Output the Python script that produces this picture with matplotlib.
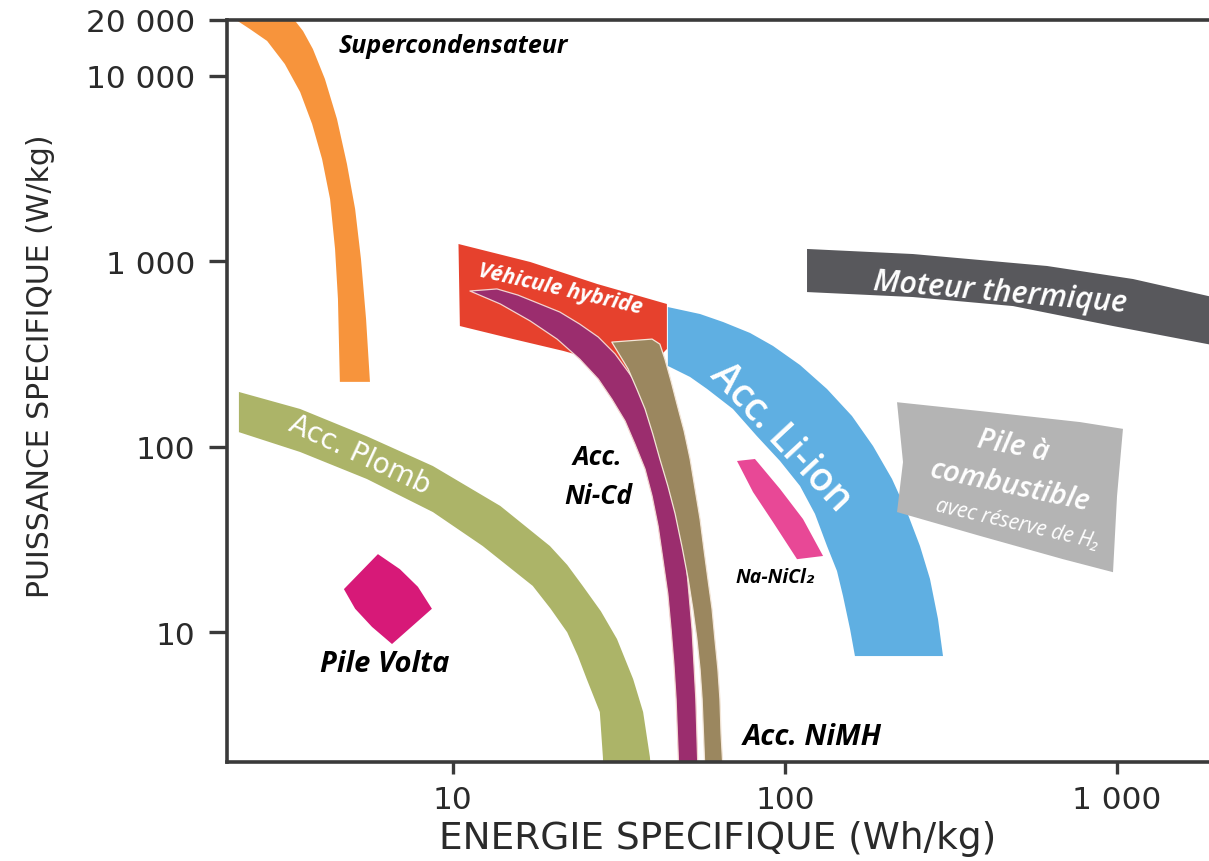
import matplotlib
matplotlib.use("Agg")
import matplotlib.pyplot as plt
from matplotlib.patches import Polygon
import numpy as np

# ---------------- data (energy Wh/kg, power W/kg outlines) ----------------
super_E = [2.18, 2.45, 2.76, 3.12, 3.47, 3.77, 4.04, 4.27, 4.42, 4.51, 4.57,
           5.63, 5.48, 5.29, 5.08, 4.80, 4.48, 4.12, 3.79, 3.54, 3.30]
super_P = [20500, 17870, 15420, 11580, 8180, 5500, 3560, 2168, 1166, 627, 224,
           224, 489, 1030, 1915, 3350, 5850, 9620, 13960, 17450, 20500]

plomb_E = [2.27, 3.47, 5.51, 8.71, 13.9, 19.6, 22.1, 24.6, 27.9, 31.2, 34.9, 37.4, 39.2, 39.5,
           28.4, 28.3, 27.7, 25.3, 23.8, 22.1, 19.7, 17.4, 12.3, 8.71, 5.51, 3.47, 2.27]
plomb_P = [197.6, 160, 114, 78.8, 48.0, 29.2, 23.1, 17.8, 13.0, 9.21, 5.60, 3.72, 2.13, 1.8,
           1.8, 2.13, 3.72, 5.60, 7.45, 10.0, 13.4, 17.8, 29.2, 44.5, 67.1, 93.8, 120]

volta_E = [4.70, 5.95, 6.93, 7.85, 8.65, 6.56, 5.71, 5.08]
volta_P = [17.1, 26.4, 21.9, 17.6, 13.4, 8.65, 10.7, 13.4]

hybride_E = [10.4, 17.1, 27.2, 44.1, 44.1, 36.6, 27.7, 21.5, 15.2, 10.5]
hybride_P = [1240, 992, 755, 589, 337, 238, 290, 329, 381, 448]

nicd_E = [11.26, 13.9, 17.1, 20.6, 24.1, 27.4, 30.1, 33.0, 35.3, 37.9, 39.8, 41.5,
          42.9, 44.4, 45.4, 46.3, 47.0, 47.9,
          54.7, 53.9, 53.2, 52.5, 51.4, 50.3, 49.3, 48.3, 46.3, 43.5, 40.6, 37.4,
          34.1, 30.8, 27.4, 24.1, 21.0, 18.3, 15.7, 13.58]
nicd_P = [692, 589, 477, 381, 297, 232, 181, 137.8, 104, 75.9, 54.3, 37.4,
          24.8, 16.1, 10.4, 6.75, 4.37, 1.8,
          1.8, 4.37, 6.75, 10.4, 16.1, 24.8, 37.0, 54.3, 77.9, 110, 150.3, 193,
          247, 317, 391, 459, 533, 589, 658, 710]

nimh_E = [30.1, 33.7, 35.8, 37.9, 40.0, 42.0, 44.4, 46.7, 49.0, 51.1, 52.8, 54.3,
          55.5, 56.3, 57.4,
          65.1, 64.2, 63.7, 62.8, 61.5, 60.3, 58.6, 57.0, 55.5, 53.6, 51.8, 49.7,
          47.3, 45.4, 43.5, 42.0, 39.8]
nimh_P = [367, 263, 205, 160, 117.3, 86.0, 61.5, 43.5, 28.8, 19.4, 13.4, 9.21,
          6.34, 4.37, 1.8,
          1.8, 2.83, 4.37, 6.34, 9.21, 13.4, 19.4, 28.1, 40.8, 59.3, 86.0, 121.7,
          170, 226, 297, 358, 381]

liion_E = [44.4, 55.5, 65.1, 78.5, 92.0, 111, 133.8, 159.1, 184.1, 210.0, 233.0,
           254.9, 273.2, 288.8, 299.0,
           162.4, 157.0, 149.5, 143.4, 133.8, 123.1, 111, 96.6, 82.4, 69.7, 58.3,
           51.8, 44.4]
liion_P = [567, 520, 471, 411, 350, 276, 205, 146.6, 101, 67.1, 44.5,
           29.2, 19.4, 11.8, 7.45,
           7.45, 10.4, 15.7, 21.4, 29.2, 43.5, 61.5, 83.9, 114, 160, 205,
           238, 273]

nanicl_E = [71.7, 81.2, 96.6, 113.3, 130.2, 108.7, 92.0, 80.1]
nanicl_P = [83.9, 86.0, 59.3, 40.8, 25.8, 24.8, 39.3, 57.1]

moteur_E = [116.5, 242.9, 614.9, 1116, 2000, 2000, 971.6, 485.9, 242.9, 116.5]
moteur_P = [1166, 1095, 944, 803, 634, 350, 448, 574, 642, 683]

pac_E = [217.4, 386.5, 773, 1041, 999, 971.6, 687.1, 386.5, 217.4, 226.6]
pac_P = [174, 156, 136, 125, 54.3, 21.1, 24.8, 33.1, 44.5, 82.8]

x_ticks = [10, 100, 1000]
x_ticklabels = ["10", "100", "1 000"]
y_ticks = [10, 100, 1000, 10000, 20000]
y_ticklabels = ["10", "100", "1 000", "10 000", "20 000"]

# ---------------- figure ----------------
W, H = 1209, 862
fig = plt.figure(figsize=(W / 100, H / 100), dpi=100)
ax = fig.add_axes([227 / W, 99 / H, (W - 227) / W, (763 - 21) / H])
ax.set_xscale("log")
ax.set_yscale("log")
ax.set_xlim(2.09, 1890)
ax.set_ylim(2, 20000)

shapes = [
    (plomb_E, plomb_P, "#ACB468", "none"),
    (volta_E, volta_P, "#D71978", "none"),
    (super_E, super_P, "#F7943C", "none"),
    (hybride_E, hybride_P, "#E6412D", "none"),
    (nicd_E, nicd_P, "#9B2D6E", "#f3d4d0"),
    (nimh_E, nimh_P, "#9B875F", "#f3e6d8"),
    (liion_E, liion_P, "#5FAFE2", "none"),
    (nanicl_E, nanicl_P, "#E84896", "none"),
    (moteur_E, moteur_P, "#58585C", "none"),
    (pac_E, pac_P, "#B4B4B4", "none"),
]
for E, P, col, ec in shapes:
    poly = Polygon(np.column_stack([E, P]), closed=True, facecolor=col,
                   edgecolor=ec, linewidth=0.9, joinstyle="round")
    ax.add_patch(poly)

# spines / ticks
for s in ["left", "bottom", "top"]:
    ax.spines[s].set_linewidth(2.6)
    ax.spines[s].set_color("#3a3a3a")
ax.spines["right"].set_visible(False)
ax.minorticks_off()
ax.set_xticks(x_ticks)
ax.set_xticklabels(x_ticklabels)
ax.set_yticks(y_ticks)
ax.set_yticklabels(y_ticklabels)
ax.tick_params(axis="y", direction="out", length=13, width=2.4, color="#3a3a3a",
               labelsize=22.5, labelcolor="#2a2a2a", pad=10)
ax.tick_params(axis="x", direction="out", length=8.5, width=2.4, color="#3a3a3a",
               labelsize=22.5, labelcolor="#2a2a2a", pad=8)

ax.set_xlabel("ENERGIE SPECIFIQUE (Wh/kg)", fontsize=27, color="#2a2a2a")
ax.xaxis.label.set_va("center")
ax.xaxis.set_label_coords(0.5, -0.103)
ax.set_ylabel("PUISSANCE SPECIFIQUE (W/kg)", fontsize=21.5, color="#2a2a2a")
ax.yaxis.label.set_va("center")
ax.yaxis.set_label_coords(-0.190, 0.535)

# labels
BI = dict(family=["Open Sans", "DejaVu Sans"], weight="bold", style="italic",
          ha="center", va="center", transform=ax.transAxes)
ax.text(0.2301, 0.9650, "Supercondensateur", color="black", fontsize=18, **BI)
ax.text(0.3391, 0.6375, "Véhicule hybride", color="white", fontsize=15.5,
        rotation=-13, rotation_mode="anchor", **BI)
ax.text(0.3768, 0.4111, "Acc.", color="black", fontsize=19, **BI)
ax.text(0.3778, 0.3585, "Ni-Cd", color="black", fontsize=19, **BI)
ax.text(0.1609, 0.1321, "Pile Volta", color="black", fontsize=21, **BI)
ax.text(0.5957, 0.0350, "Acc. NiMH", color="black", fontsize=21, **BI)
ax.text(0.5580, 0.2493, "Na-NiCl₂", color="black", fontsize=14, **BI)

ax.text(0.1354, 0.4151, "Acc. Plomb", fontsize=20, rotation=-25,
        rotation_mode="anchor", family="DejaVu Sans", ha="center", va="center",
        transform=ax.transAxes, color="white")

W_T = dict(family=["Open Sans", "DejaVu Sans"], ha="center", va="center",
           transform=ax.transAxes, color="white", rotation_mode="anchor")
ax.text(0.5631, 0.4380, "Acc. Li-ion", fontsize=28, rotation=-47, weight="semibold",
        **W_T)
ax.text(0.7872, 0.6335, "Moteur thermique", fontsize=22, rotation=-5, weight="semibold",
        style="italic", **W_T)
ax.text(0.8004, 0.4259, "Pile à", fontsize=21, rotation=-11, weight="semibold",
        style="italic", **W_T)
ax.text(0.7974, 0.3720, "combustible", fontsize=21, rotation=-12, weight="semibold",
        style="italic", **W_T)
ax.text(0.8045, 0.3210, "avec réserve de H₂", fontsize=15, rotation=-13,
        style="italic", **W_T)

fig.savefig("out.png", dpi=100)
